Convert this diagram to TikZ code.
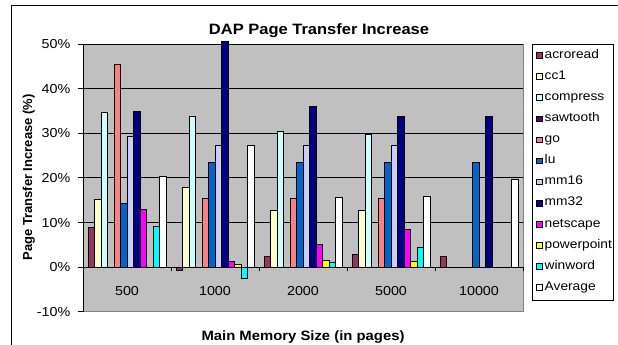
\documentclass[tikz,border=0pt]{standalone}
\usepackage{fontspec}
\setmainfont{Liberation Sans}[FakeStretch=1.1]
\newfontfamily\uprightsans{Liberation Sans}

% series colours
\definecolor{ser0}{HTML}{993366}
\definecolor{ser1}{HTML}{FFFFCC}
\definecolor{ser2}{HTML}{CCFFFF}
\definecolor{ser3}{HTML}{660066}
\definecolor{ser4}{HTML}{FF8080}
\definecolor{ser5}{HTML}{0066CC}
\definecolor{ser6}{HTML}{CCCCFF}
\definecolor{ser7}{HTML}{000080}
\definecolor{ser8}{HTML}{FF00FF}
\definecolor{ser9}{HTML}{FFFF00}
\definecolor{ser10}{HTML}{00FFFF}
\definecolor{ser11}{HTML}{FFFFFF}
\definecolor{plotbg}{HTML}{C0C0C0}
\definecolor{plotedge}{HTML}{808080}

\tikzset{
  ticklabel/.style={inner sep=0pt, font=\fontsize{13}{15}\selectfont},
  legendlabel/.style={inner sep=0pt, anchor=base west, font=\fontsize{12.5}{14}\selectfont},
  axistitle/.style={inner sep=0pt, anchor=base, font=\bfseries\fontsize{13.5}{16}\selectfont},
  bar/.style={draw=black, line width=0.6pt},
  keybox/.style={draw=black, line width=0.5pt},
  grid line/.style={draw=black, line width=0.7pt},
}

\begin{document}
\begin{tikzpicture}[x=1pt, y=-1pt]
\useasboundingbox (0,0) rectangle (618,345);
\clip (0,0) rectangle (618,345);
\fill[white] (0,0) rectangle (618,345);

% chart frame
\draw[black, line width=0.8pt] (11.5,5.7) rectangle (640,360);

% plot area: 0% at y=266.9, 4.458 per percent
\def\zy{266.9}
\def\pp{4.458}
\fill[plotbg] (83,44) rectangle (523,311.5);
\draw[plotedge, line width=0.7pt] (83,311.5) -- (523,311.5) -- (523,44);

% gridlines
\foreach \v in {10,20,30,40,50}
  \draw[grid line] (83,{\zy-\pp*\v}) -- (523,{\zy-\pp*\v});

% value axis with ticks and labels
\draw[black, line width=0.7pt] (83,44) -- (83,311.5);
\foreach \v in {-10,0,10,20,30,40,50} {
  \draw[black, line width=0.7pt] (77.5,{\zy-\pp*\v}) -- (83,{\zy-\pp*\v});
  \node[ticklabel, anchor=base east] (yl\v) at (70.5,{\zy-\pp*\v+4.7}) {\v\%};
}

% bars: category k, series i
\def\bw{6.5185}
\foreach \k/\vals in {
  0/{8.8,15.2,34.7,0,45.4,14.3,29.2,34.9,12.9,0,9.0,20.4},
  1/{-0.7,17.9,33.8,0,15.4,23.4,27.2,50.7,1.3,0.6,-2.6,27.2},
  2/{2.4,12.7,30.4,0,15.4,23.4,27.2,36.0,5.1,1.4,1.0,15.6},
  3/{2.9,12.7,29.7,0,15.4,23.4,27.2,33.8,8.5,1.3,4.5,15.8},
  4/{2.4,0,0,0,0,23.4,0,33.8,0,0,0,19.7}} {
  \foreach \v [count=\i from 0] in \vals {
    \ifdim \v pt=0pt\relax\else
      \draw[bar, fill=ser\i]
        ({83+88*\k+0.75*\bw+\i*\bw},\zy) rectangle
        ({83+88*\k+0.75*\bw+(\i+1)*\bw},{\zy-\pp*\v});
    \fi
  }
}

% category axis
\draw[black, line width=0.7pt] (83,\zy) -- (523,\zy);
\foreach \k in {0,...,5}
  \draw[black, line width=0.7pt] ({83+88*\k},\zy) -- ({83+88*\k},{\zy+4.5});
\foreach \k/\lab in {0/500,1/1000,2/2000,3/5000,4/10000}
  \node[ticklabel, anchor=base] (cat\k) at ({127+88*\k},295) {\lab};

% titles
\node[inner sep=0pt, anchor=base, font=\bfseries\fontsize{15}{18}\selectfont]
  (title) at (319,34.3) {DAP Page Transfer Increase};
\node[axistitle] (xtitle) at (303,340.7) {Main Memory Size (in pages)};
\node[inner sep=0pt, anchor=base, rotate=90,
      font=\uprightsans\bfseries\fontsize{13}{16}\selectfont]
  (ytitle) at (32,177.5) {Page Transfer Increase (\%)};

% legend
\draw[black, line width=0.7pt, fill=white] (532,44) rectangle (613.5,300);
\foreach \name [count=\i from 0] in {acroread,cc1,compress,sawtooth,go,lu,mm16,mm32,netscape,powerpoint,winword,Average} {
  \draw[keybox, fill=ser\i] (536.7,{55.3+21.1*\i-2.8}) rectangle (542.2,{55.3+21.1*\i+2.8});
  \node[legendlabel] (key\i) at (544.5,{55.3+21.1*\i+2.9}) {\name};
}
\end{tikzpicture}
\end{document}
